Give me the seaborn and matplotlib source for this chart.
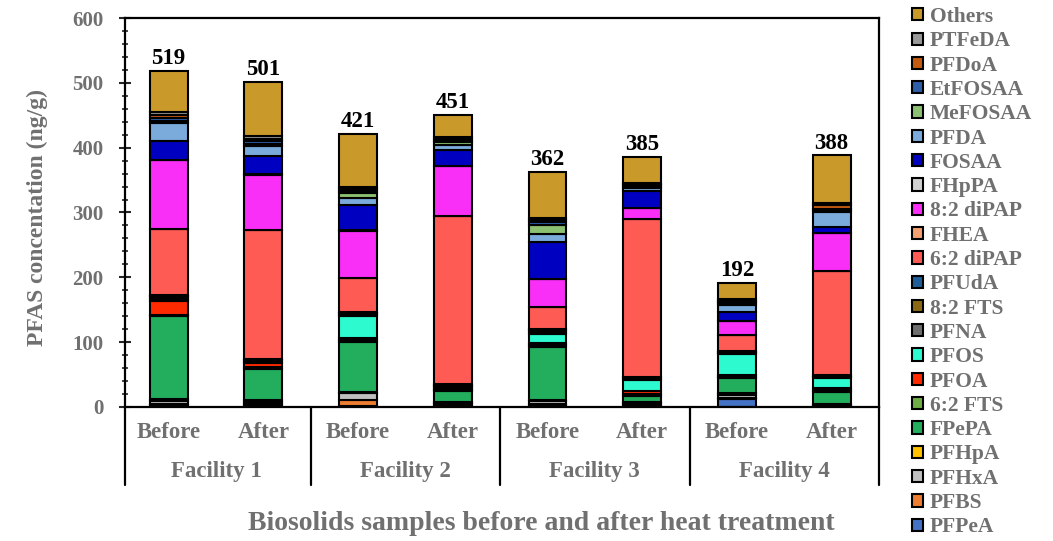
import numpy as np
import pandas as pd
import matplotlib
matplotlib.use("Agg")
import matplotlib.pyplot as plt
import matplotlib.transforms as mtransforms
from matplotlib.patches import Patch
from matplotlib.ticker import MultipleLocator
import seaborn as sns

# ---------------- data ----------------
compounds = ["PFPeA", "PFBS", "PFHxA", "PFHpA", "FPePA", "6:2 FTS", "PFOA", "PFOS",
             "PFNA", "8:2 FTS", "PFUdA", "6:2 diPAP", "FHEA", "8:2 diPAP", "FHpPA",
             "FOSAA", "PFDA", "MeFOSAA", "EtFOSAA", "PFDoA", "PTFeDA", "Others"]
colors = ["#4472C4", "#ED7D31", "#BFBFBF", "#FFC000", "#22AE5C", "#70AD47", "#FF2A00",
          "#2EFAD0", "#6E6E6E", "#8B6914", "#1F5F99", "#FF5B55", "#F4A070", "#F92FF8",
          "#D0D0D0", "#0000C0", "#7AABDB", "#8BC170", "#2E5FA8", "#C55A11", "#999999",
          "#C9992A"]
facilities = ["Facility 1", "Facility 2", "Facility 3", "Facility 4"]
treatments = ["Before", "After"]

f1_before = [3, 2, 4, 3, 129, 1, 21, 3, 3, 2, 2, 102, 0, 106, 0, 30, 27, 3, 4, 6, 4, 64]
f1_after = [3, 2, 3, 3, 48, 2, 7, 2, 2, 1, 1, 199, 0, 85, 1, 28, 16, 3, 4, 4, 4, 83]
f2_before = [1, 10, 11, 1, 78, 3, 3, 33, 3, 2, 2, 52, 0, 73, 1, 39, 10, 8, 3, 3, 3, 82]
f2_after = [2, 2, 2, 2, 16, 2, 2, 3, 2, 1, 1, 260, 0, 76, 0, 26, 7, 5, 2, 3, 3, 34]
f3_before = [3, 2, 4, 2, 82, 3, 2, 14, 3, 3, 2, 34, 0, 44, 0, 57, 12, 13, 6, 2, 3, 71]
f3_after = [2, 2, 2, 2, 9, 3, 4, 18, 2, 1, 1, 244, 0, 17, 0, 26, 5, 2, 2, 2, 2, 39]
f4_before = [12, 2, 5, 2, 24, 2, 3, 31, 2, 2, 2, 24, 0, 22, 0, 13, 11, 3, 2, 2, 3, 25]
f4_after = [2, 1, 1, 1, 18, 3, 3, 15, 2, 2, 2, 159, 0, 59, 0, 9, 24, 3, 2, 5, 3, 74]

samples = [f"{f} {t}" for f in facilities for t in treatments]
matrix = np.array([f1_before, f1_after, f2_before, f2_after,
                   f3_before, f3_after, f4_before, f4_after], dtype=float)

# ---------------- style ----------------
sns.set_style("ticks")
plt.rcParams["font.family"] = ["Liberation Serif", "DejaVu Serif"]
plt.rcParams["font.weight"] = "bold"
gray = "#707070"

fig = plt.figure(figsize=(10.53, 5.41), dpi=100)
ax = fig.add_axes([125 / 1053, 1 - 407 / 541, (879 - 125) / 1053, (407 - 18) / 541])

cum = np.zeros(len(samples))
for i, comp in enumerate(compounds):
    vals = matrix[:, i]
    df = pd.DataFrame({"sample": samples, "value": vals})
    sns.barplot(data=df, x="sample", y="value", order=samples, bottom=cum.copy(),
                color=colors[i], saturation=1, width=0.4, edgecolor="black",
                linewidth=1.5, errorbar=None, ax=ax)
    cum += vals

totals = matrix.sum(axis=1)
for xi, tot in enumerate(totals):
    ax.text(xi, tot + 3, f"{int(round(tot))}", ha="center", va="bottom",
            fontsize=16.5, fontweight="bold", color="black")

ax.set_xlim(-0.46, 7.5)
ax.set_ylim(0, 600)
ax.yaxis.set_major_locator(MultipleLocator(100))
ax.yaxis.set_minor_locator(MultipleLocator(20))
ax.tick_params(axis="y", which="major", direction="inout", length=9, width=1.5,
               labelsize=15, labelcolor=gray, pad=11)
ax.tick_params(axis="y", which="minor", direction="inout", length=5, width=1.2)
for lab in ax.get_yticklabels():
    lab.set_fontweight("bold")
ax.set_xticks([])
ax.set_xlabel("")
ax.set_ylabel("")
for sp in ax.spines.values():
    sp.set_visible(True)
    sp.set_linewidth(1.6)
    sp.set_color("black")

trans = mtransforms.blended_transform_factory(ax.transData, ax.transAxes)
for xs in [-0.46, 1.5, 3.5, 5.5, 7.5]:
    ax.plot([xs, xs], [0, -0.2005], transform=trans, color="black", lw=1.6,
            clip_on=False)
for xi, s in enumerate(samples):
    ax.text(xi, -0.0668, treatments[xi % 2], transform=trans, ha="center",
            va="center", fontsize=16.5, fontweight="bold", color=gray)
for fi, f in enumerate(facilities):
    ax.text(2 * fi + 0.5, -0.167, f, transform=trans, ha="center", va="center",
            fontsize=16.5, fontweight="bold", color=gray)

fig.text(541 / 1053, 1 - 524 / 541, "Biosolids samples before and after heat treatment",
         ha="center", va="center", fontsize=20, fontweight="bold", color=gray)
fig.text(37 / 1053, 1 - 218 / 541, "PFAS concentation (ng/g)", rotation=90,
         ha="center", va="center", fontsize=17, fontweight="bold", color=gray)

handles = [Patch(facecolor=colors[i], edgecolor="black", linewidth=1.5, label=compounds[i])
           for i in range(len(compounds))][::-1]
leg = fig.legend(handles=handles, loc="upper left", bbox_to_anchor=(912 / 1053, 1 - 7 / 541),
                 frameon=False, handlelength=0.5, handleheight=0.5,
                 handletextpad=0.33, labelspacing=0.2, borderpad=0, borderaxespad=0,
                 prop={"weight": "bold", "size": 15.5})
for t in leg.get_texts():
    t.set_color(gray)

fig.savefig("out.png", dpi=100)
